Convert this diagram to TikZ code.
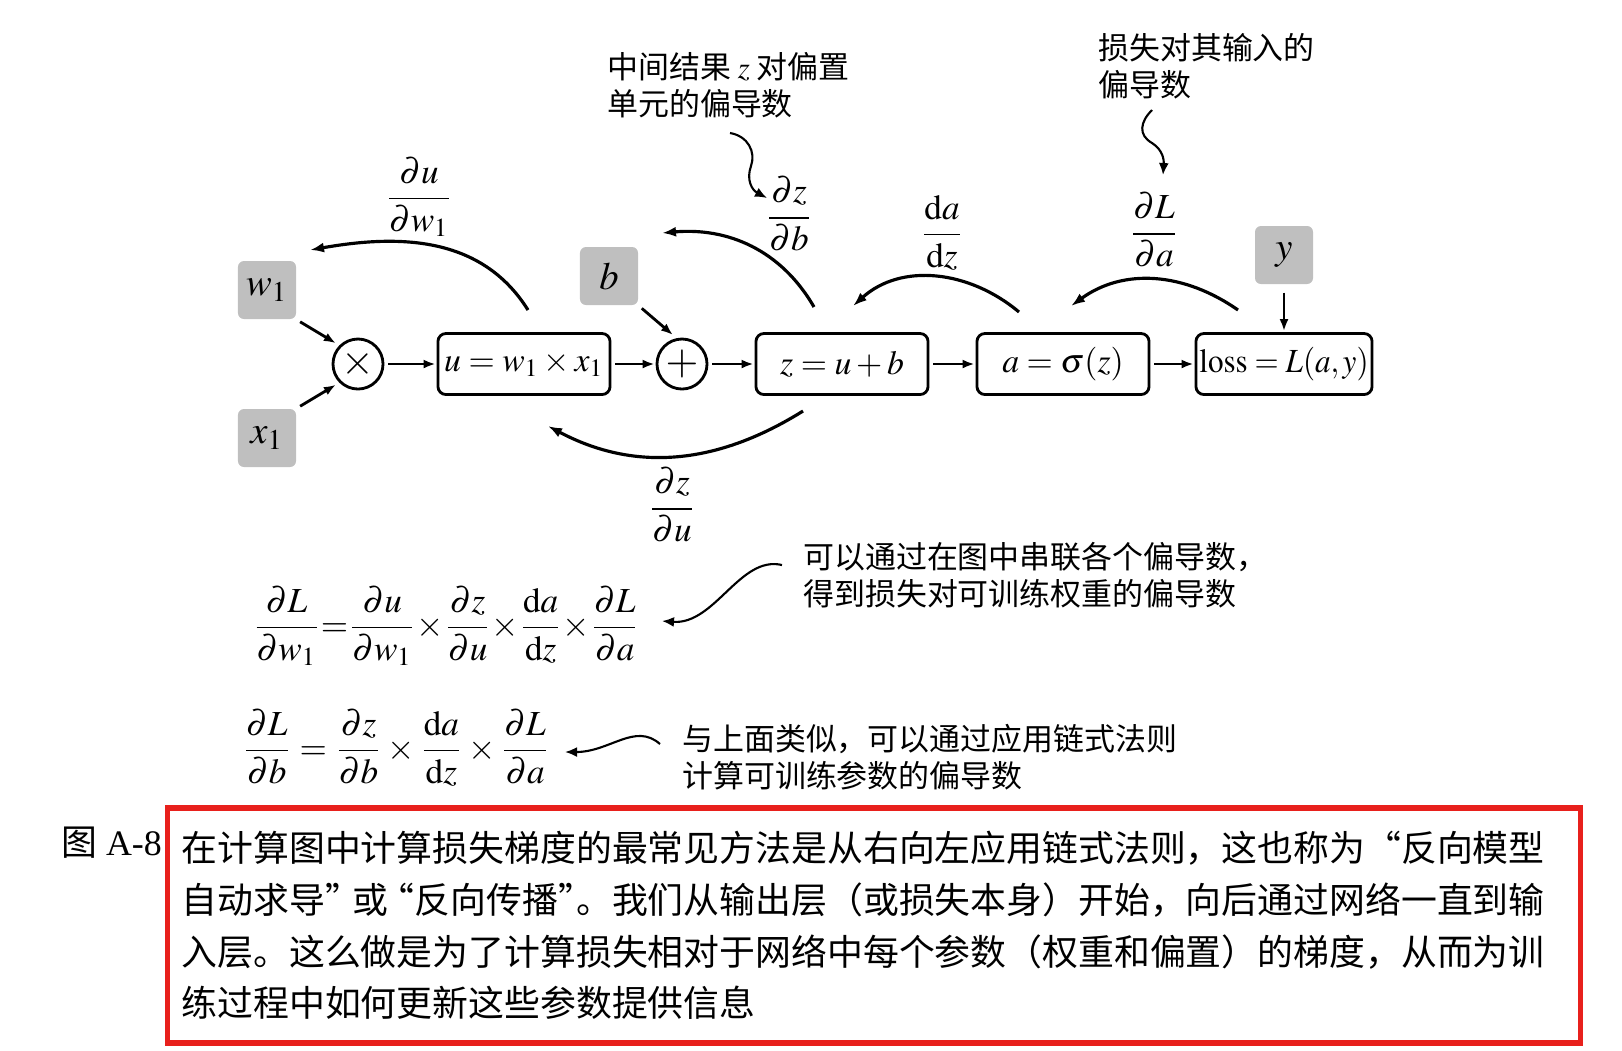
\documentclass[tikz,border=0pt]{standalone}
\usepackage{amsmath}
\usepackage{mathptmx}
\usepackage{fontspec}
\setmainfont{Liberation Serif}
\newfontfamily\cjk{Noto Sans CJK SC}
\usetikzlibrary{arrows.meta}
\definecolor{boxgray}{RGB}{191,191,191}
\definecolor{capred}{RGB}{232,32,28}

\begin{document}
\begin{tikzpicture}[
		x=0.01cm, y=0.01cm,
		every node/.style={font=\fontsize{10}{12}\selectfont, inner sep=1pt},
		gbox/.style={fill=boxgray, rounded corners=0.06cm, minimum size=0.58cm, font=\fontsize{11}{13}\selectfont},
		fbox/.style={draw, line width=0.8pt, rounded corners=0.08cm, minimum width=1.72cm, minimum height=0.61cm, font=\fontsize{9.6}{12}\selectfont},
		op/.style={draw, circle, line width=0.8pt, minimum size=0.5cm, inner sep=0pt, font=\large},
		arrow/.style={-{Latex[length=0.12cm, width=0.09cm]}, line width=0.8pt, shorten <=0.04cm, shorten >=0.01cm},
		back/.style={-{Latex[length=0.14cm, width=0.1cm]}, line width=0.9pt},
		wiggle/.style={-{Latex[length=0.12cm, width=0.1cm]}, line width=0.6pt},
		note/.style={font=\cjk\fontsize{8.8}{10.5}\selectfont, align=left, anchor=west},
		capbox/.style={draw=capred, line width=1.6pt, minimum width=14.12cm, minimum height=2.35cm, text width=13.84cm, inner xsep=0.14cm, align=left, font=\cjk\fontsize{10.2}{14.7}\selectfont}
		]
		\useasboundingbox (0,0) rectangle (1622,-1050);
		
		% forward chain
		\node[gbox] (w1) at (267,-290) {$w_1$};
		\node[gbox] (x1) at (267,-438) {$x_1$};
		\node[op] (mul) at (358,-364) {$\times$};
		\node[fbox] (u) at (524,-364) {$u = w_1 \times x_1$};
		\node[op] (add) at (682,-364) {$+$};
		\node[gbox] (b) at (609,-276) {$b$};
		\node[fbox] (z) at (842,-364) {$z = u + b$};
		\node[fbox] (a) at (1063,-364) {$a = \sigma(z)$};
		\node[fbox] (loss) at (1284,-364) {\scalebox{0.92}[1]{$\mathrm{loss} = L(a, y)$}};
		\node[gbox] (y) at (1284,-255) {$y$};
		
		\draw[arrow, shorten >=0.04cm] (w1.south east) -- (mul.north west);
		\draw[arrow, shorten >=0.04cm] (x1.north east) -- (mul.south west);
		\draw[arrow] (mul) -- (u);
		\draw[arrow] (u) -- (add);
		\draw[arrow, shorten >=0.04cm] (b.south east) -- ([xshift=-0.06cm]add.north);
		\draw[arrow] (add) -- (z);
		\draw[arrow] (z) -- (a);
		\draw[arrow] (a) -- (loss);
		\draw[arrow, shorten <=0.08cm] (y) -- (loss);
		
		% backward arcs
		\coordinate (uw-s) at (528,-310);
		\coordinate (uw-e) at (310,-250);
		\coordinate (zb-s) at (814,-307);
		\coordinate (zb-e) at (662,-233);
		\coordinate (az-s) at (1019,-312);
		\coordinate (az-e) at (853,-306);
		\coordinate (la-s) at (1238,-310);
		\coordinate (la-e) at (1071,-306);
		\coordinate (zu-s) at (803,-411);
		\coordinate (zu-e) at (548,-426);
		
		\draw[back] (uw-s) to[out=122, in=10] (uw-e);
		\draw[back] (zb-s) to[out=120, in=5] (zb-e);
		\draw[back] (az-s) to[out=140, in=42] (az-e);
		\draw[back] (la-s) to[out=145, in=36] (la-e);
		\draw[back] (zu-s) to[out=212, in=-28] (zu-e);
		
		\node (duw) at (419,-197) {$\dfrac{\partial u}{\partial w_1}$};
		\node (dzb) at (789,-214) {$\dfrac{\partial z}{\partial b}$};
		\node (daz) at (942,-233) {$\dfrac{\mathrm{d}a}{\mathrm{d}z}$};
		\node (dla) at (1154,-230) {$\dfrac{\partial L}{\partial a}$};
		\node (dzu) at (672,-505) {$\dfrac{\partial z}{\partial u}$};
		
		% notes
		\node[note] (nb) at (603,-85) {中间结果 $z$ 对偏置\\单元的偏导数};
		\node[note] (nl) at (1094,-66) {损失对其输入的\\偏导数};
		\coordinate (nb-s) at (730,-133);
		\coordinate (nb-e) at (767,-198);
		\coordinate (nl-s) at (1152,-110);
		\coordinate (nl-e) at (1163,-175);
		\draw[wiggle] (nb-s) .. controls (748,-136) and (756,-152) .. (751,-166) .. controls (746,-180) and (752,-190) .. (nb-e);
		\draw[wiggle] (nl-s) .. controls (1140,-122) and (1138,-135) .. (1152,-143) .. controls (1163,-150) and (1164,-160) .. (nl-e);
		
		% chain rule
		\node (eqw) at (446,-626) {$\dfrac{\partial L}{\partial w_1}{=}\dfrac{\partial u}{\partial w_1}{\times}\dfrac{\partial z}{\partial u}{\times}\dfrac{\mathrm{d}a}{\mathrm{d}z}{\times}\dfrac{\partial L}{\partial a}$};
		\node (eqb) at (396,-748) {$\dfrac{\partial L}{\partial b} = \dfrac{\partial z}{\partial b}\times\dfrac{\mathrm{d}a}{\mathrm{d}z}\times\dfrac{\partial L}{\partial a}$};
		\node[note] (nw) at (799,-575) {可以通过在图中串联各个偏导数，\\得到损失对可训练权重的偏导数};
		\node[note] (nc) at (678,-757) {与上面类似，可以通过应用链式法则\\计算可训练参数的偏导数};
		\coordinate (nw-s) at (782,-565);
		\coordinate (nw-e) at (662,-621);
		\coordinate (nc-s) at (660,-744);
		\coordinate (nc-e) at (565,-752);
		\draw[wiggle] (nw-s) .. controls (740,-555) and (715,-625) .. (nw-e);
		\draw[wiggle] (nc-s) .. controls (635,-722) and (610,-752) .. (nc-e);
		
		% caption
		\node[anchor=west, font=\fontsize{10.2}{12}\selectfont] (fig) at (57,-843) {{\cjk 图} A-8};
		\node[capbox] (cap) at (874,-925.5) {在计算图中计算损失梯度的最常见方法是从右向左应用链式法则，这也称为“反向模型\\自动求导”\kern-0.25em 或\kern-0.25em“反向传播”\kern-0.5em。我们从输出层（或损失本身）开始，向后通过网络一直到输\\入层。这么做是为了计算损失相对于网络中每个参数（权重和偏置）的梯度，从而为训\\练过程中如何更新这些参数提供信息};
		
	\end{tikzpicture}
\end{document}
